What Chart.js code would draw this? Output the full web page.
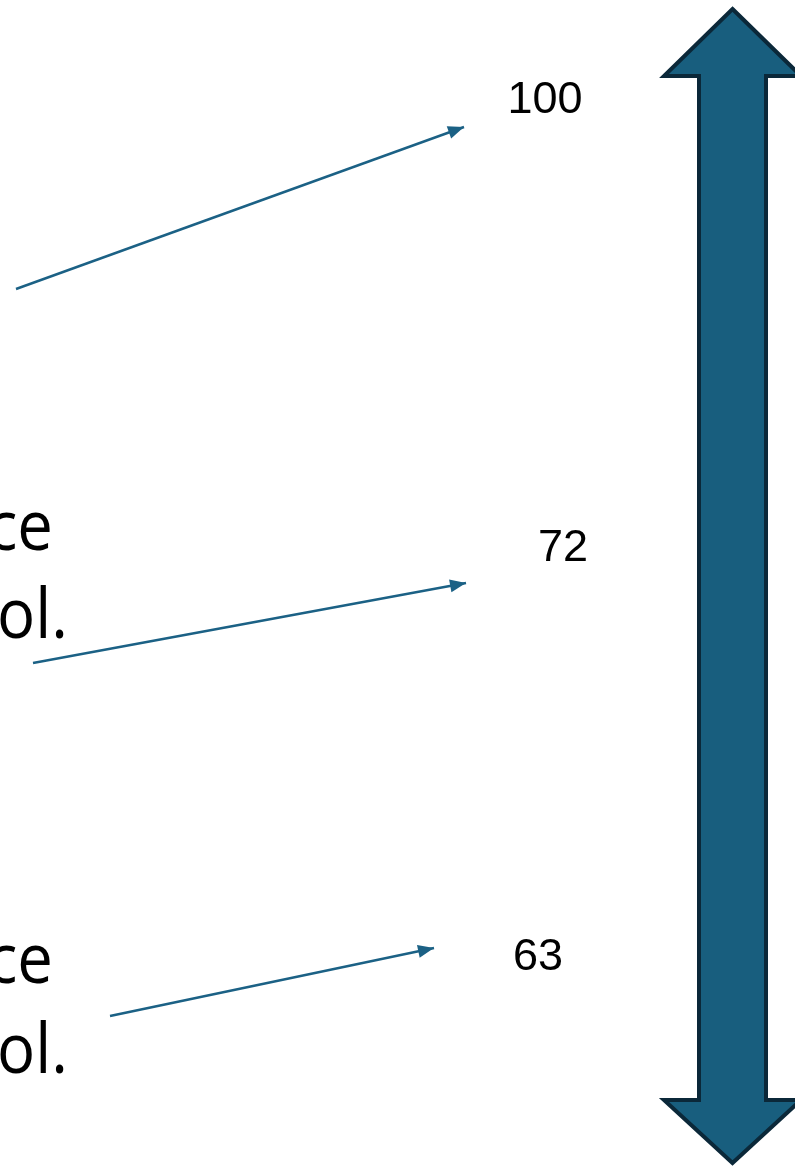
<!DOCTYPE html>
<html><head><meta charset="utf-8">
<script src="https://cdn.jsdelivr.net/npm/chart.js@4.4.1/dist/chart.umd.min.js"></script>
<style>html,body{margin:0;padding:0;background:#fff;overflow:hidden}#wrap{width:795px;height:1167px;position:relative}</style>
</head><body><div id="wrap"><canvas id="c"></canvas></div>
<script>
// ---- data ----
const categories = ['Top', 'Middle', 'Bottom'];
const values = [100, 72, 63];
const textFragments = [[], ['ce', 'ol.'], ['ce', 'ol.']];

// ---- layout (frame coordinates, 795 x 1167) ----
const labelX = [545, 563, 538];
const labelY = [101, 549, 958];
const arrowStartX = [16, 33, 110];
const arrowStartY = [289, 663, 1016];
const arrowEndX = [464, 466, 434];
const arrowEndY = [127, 583, 948];
const fragRightX = [[53, 68], [53, 68]];
const fragBaseY = [[550, 638], [983, 1073]];
const bigArrow = { cx: 732.5, top: 9, headTop: 76, headBottom: 1100, bottom: 1163, headHalf: 68.5, shaftHalf: 33.5 };

const LINE_COLOR = '#1b6185';
const FILL_COLOR = '#185e7e';
const EDGE_COLOR = '#0b2839';

const datasets = categories.map((c, i) => ({
  label: c,
  type: 'line',
  data: [{ x: arrowStartX[i], y: arrowStartY[i] }, { x: arrowEndX[i], y: arrowEndY[i] }],
  borderColor: LINE_COLOR,
  borderWidth: 2.4,
  pointRadius: 0,
  showLine: true,
  fill: false,
  isArrow: true
}));
datasets.push({
  label: 'values',
  type: 'scatter',
  data: values.map((v, i) => ({ x: labelX[i], y: labelY[i], v })),
  pointRadius: 0,
  isLabels: true
});

const decorPlugin = {
  id: 'decor',
  beforeDatasetsDraw(chart) {
    const ctx = chart.ctx, xs = chart.scales.x, ys = chart.scales.y;
    const b = bigArrow;
    const X = v => xs.getPixelForValue(v), Y = v => ys.getPixelForValue(v);
    ctx.save();
    ctx.beginPath();
    ctx.moveTo(X(b.cx), Y(b.top));
    ctx.lineTo(X(b.cx + b.headHalf), Y(b.headTop));
    ctx.lineTo(X(b.cx + b.shaftHalf), Y(b.headTop));
    ctx.lineTo(X(b.cx + b.shaftHalf), Y(b.headBottom));
    ctx.lineTo(X(b.cx + b.headHalf), Y(b.headBottom));
    ctx.lineTo(X(b.cx), Y(b.bottom));
    ctx.lineTo(X(b.cx - b.headHalf), Y(b.headBottom));
    ctx.lineTo(X(b.cx - b.shaftHalf), Y(b.headBottom));
    ctx.lineTo(X(b.cx - b.shaftHalf), Y(b.headTop));
    ctx.lineTo(X(b.cx - b.headHalf), Y(b.headTop));
    ctx.closePath();
    ctx.fillStyle = FILL_COLOR;
    ctx.fill();
    ctx.lineWidth = 4;
    ctx.lineJoin = 'miter';
    ctx.strokeStyle = EDGE_COLOR;
    ctx.stroke();
    ctx.restore();

    // text fragments
    ctx.save();
    ctx.fillStyle = '#000';
    ctx.font = '69px "Open Sans"';
    ctx.textAlign = 'right';
    ctx.textBaseline = 'alphabetic';
    textFragments.forEach((lines, i) => {
      lines.forEach((t, j) => {
        const k = i - 1;
        ctx.save();
        ctx.translate(X(fragRightX[k][j]), Y(fragBaseY[k][j]));
        ctx.scale(0.92, 1);
        ctx.fillText(t, 0, 0);
        ctx.restore();
      });
    });
    ctx.restore();
  },
  afterDatasetsDraw(chart) {
    const ctx = chart.ctx;
    chart.data.datasets.forEach((ds, di) => {
      const meta = chart.getDatasetMeta(di);
      if (ds.isArrow) {
        const p0 = meta.data[0], p1 = meta.data[1];
        const a = Math.atan2(p1.y - p0.y, p1.x - p0.x);
        const L = 16, W = 6.5;
        ctx.save();
        ctx.translate(p1.x, p1.y);
        ctx.rotate(a);
        ctx.beginPath();
        ctx.moveTo(0, 0);
        ctx.lineTo(-L, -W);
        ctx.lineTo(-L, W);
        ctx.closePath();
        ctx.fillStyle = LINE_COLOR;
        ctx.fill();
        ctx.restore();
      }
      if (ds.isLabels) {
        ctx.save();
        ctx.fillStyle = '#000';
        ctx.font = '45px "Liberation Sans", Arial, sans-serif';
        ctx.textAlign = 'center';
        ctx.textBaseline = 'middle';
        meta.data.forEach((pt, i) => {
          ctx.fillText(String(values[i]), pt.x, pt.y);
        });
        ctx.restore();
      }
    });
  }
};

new Chart(document.getElementById('c'), {
  type: 'scatter',
  data: { datasets },
  options: {
    responsive: true,
    maintainAspectRatio: false,
    animation: false,
    layout: { padding: 0 },
    plugins: { legend: { display: false }, tooltip: { enabled: false } },
    scales: {
      x: { type: 'linear', min: 0, max: 795, display: false },
      y: { type: 'linear', min: 0, max: 1167, reverse: true, display: false }
    }
  },
  plugins: [decorPlugin]
});
</script></body></html>
